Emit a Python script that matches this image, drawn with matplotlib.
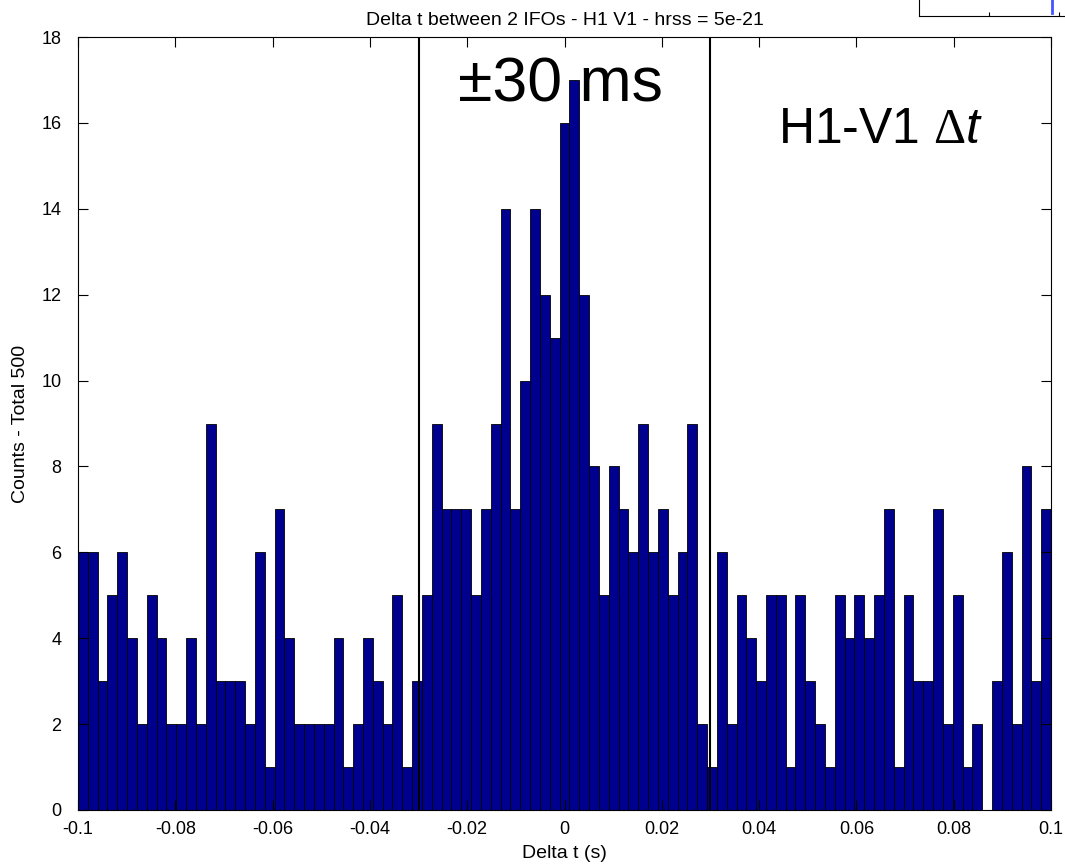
import numpy as np
import matplotlib
matplotlib.use('Agg')
import matplotlib.pyplot as plt

plt.rcParams['font.family'] = ['Liberation Sans', 'DejaVu Sans']
plt.rcParams['mathtext.fontset'] = 'custom'
plt.rcParams['mathtext.rm'] = 'Liberation Serif'
plt.rcParams['mathtext.it'] = 'Liberation Sans:italic'

# histogram counts, 99 bins from -0.1 to 0.1 s
counts = [6, 6, 3, 5, 6, 4, 2, 5, 4, 2, 2, 4, 2, 9, 3, 3, 3, 2, 6, 1,
          7, 4, 2, 2, 2, 2, 4, 1, 2, 4, 3, 2, 5, 1, 3, 5, 9, 7, 7,
          7, 5, 7, 9, 14, 7, 10, 14, 12, 11, 16, 17, 12,
          8, 5, 8, 7, 6, 9, 6, 7, 5, 6, 9, 2, 1,
          6, 2, 5, 4, 3, 5, 5, 1, 5, 3, 2, 1, 5, 4, 5, 4, 5,
          7, 1, 5, 3, 3, 7, 2, 5, 1, 2, 0, 3, 6, 2, 8, 3, 7]
t_min, t_max = -0.1, 0.1
window = 0.03
x_ticks = np.arange(-0.1, 0.1001, 0.02)
y_ticks = np.arange(0, 19, 2)

edges = np.linspace(t_min, t_max, len(counts) + 1)

fig = plt.figure(figsize=(10.65, 8.65), dpi=100)
ax = fig.add_axes([0.0732, 0.0636, 0.9137, 0.8936])

ax.bar(edges[:-1], counts, width=np.diff(edges), align='edge',
       color='#00008f', edgecolor='black', linewidth=0.6)
ax.axvline(-window, color='black', lw=1.5)
ax.axvline(window, color='black', lw=1.5)

ax.set_xlim(t_min, t_max)
ax.set_ylim(0, 18)
ax.set_xticks(x_ticks)
ax.set_xticklabels(['%g' % round(v, 3) for v in x_ticks])
ax.set_yticks(y_ticks)
ax.tick_params(direction='in', length=7, top=True, right=True,
               labelsize=13, width=0.8)
ax.tick_params(axis='x', pad=8)
ax.tick_params(axis='y', pad=12)
for s in ax.spines.values():
    s.set_linewidth(0.8)

ax.set_title('Delta t between 2 IFOs - H1 V1 - hrss = 5e-21',
             fontsize=14, pad=9)
ax.set_xlabel('Delta t (s)', fontsize=14)
ax.set_ylabel('Counts - Total 500', fontsize=14)
ax.xaxis.set_label_coords(0.5, -0.045)
ax.yaxis.set_label_coords(-0.05, 0.5)

ax.text(-0.0008, 16.5, '\u00b130 ms', fontsize=45, ha='center',
        va='baseline')
ax.text(0.0438, 15.53, r'H1-V1 $\Delta t$', fontsize=36, ha='left',
        va='baseline')

# fragment of another plot at the top-right corner of the slide
frag = fig.add_axes([0.863, 0.9815, 0.2, 0.03])
frag.plot([0.624, 0.624], [0.1, 1.0], color='#4455ff', lw=2)
frag.set_xlim(0, 1)
frag.set_ylim(0, 1)
frag.set_xticks([0.329, 0.657])
frag.set_yticks([])
frag.tick_params(direction='in', length=3, labelbottom=False)
frag.spines['top'].set_visible(False)
frag.spines['right'].set_visible(False)
frag.patch.set_visible(False)

fig.savefig('out.png', dpi=100)
